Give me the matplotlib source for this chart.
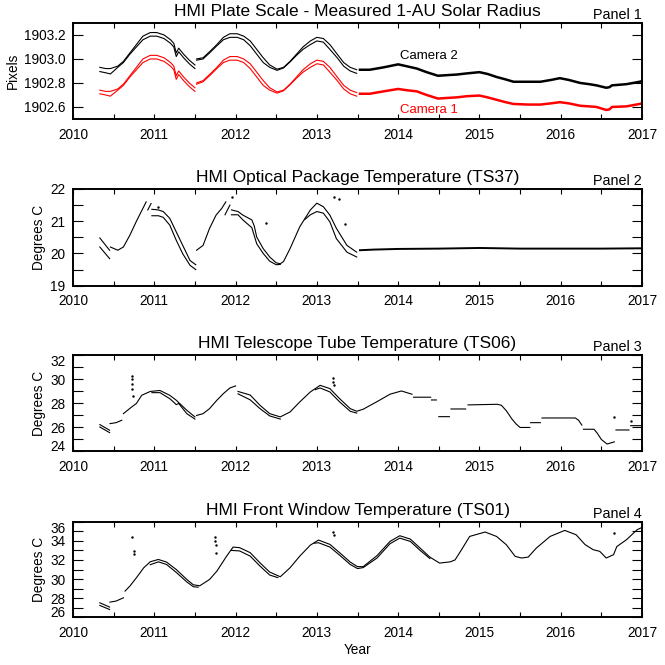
import numpy as np
import matplotlib
matplotlib.use('Agg')
import matplotlib.pyplot as plt
from matplotlib.ticker import MultipleLocator, FormatStrFormatter

nan = np.nan

# ---------------- Panel 1: plate scale (pixels) ----------------
p1_x_early = [2010.33, 2010.40, 2010.46, 2010.55, 2010.62, 2010.70, 2010.78, 2010.86, 2010.95, 2011.03,
              2011.12, 2011.20, 2011.24, 2011.27, 2011.30, 2011.36, 2011.43, 2011.50, nan,
              2011.52, 2011.60, 2011.68, 2011.77, 2011.85, 2011.93, 2012.02, 2012.10, 2012.18, 2012.26,
              2012.34, 2012.42, 2012.51, 2012.59, 2012.67, 2012.75, 2012.83, 2012.92, 2013.00, 2013.08,
              2013.16, 2013.25, 2013.33, 2013.41, 2013.49]
p1_cam2_upper = [1902.93, 1902.92, 1902.92, 1902.94, 1902.98, 1903.05, 1903.12, 1903.19, 1903.22, 1903.22,
                 1903.20, 1903.16, 1903.13, 1903.05, 1903.09, 1903.04, 1902.99, 1902.95, nan,
                 1903.00, 1903.01, 1903.06, 1903.12, 1903.18, 1903.21, 1903.21, 1903.19, 1903.15, 1903.08,
                 1903.01, 1902.95, 1902.915, 1902.93, 1902.98, 1903.04, 1903.10, 1903.15, 1903.18, 1903.17,
                 1903.12, 1903.04, 1902.97, 1902.93, 1902.91]
p1_cam2_lower = [1902.895, 1902.885, 1902.875, 1902.93, 1902.97, 1903.04, 1903.10, 1903.16, 1903.19, 1903.19,
                 1903.17, 1903.13, 1903.10, 1903.02, 1903.06, 1903.01, 1902.96, 1902.92, nan,
                 1902.99, 1903.00, 1903.05, 1903.11, 1903.16, 1903.18, 1903.18, 1903.16, 1903.11, 1903.04,
                 1902.97, 1902.93, 1902.905, 1902.925, 1902.975, 1903.03, 1903.08, 1903.12, 1903.15, 1903.14,
                 1903.08, 1903.01, 1902.94, 1902.90, 1902.88]
p1_cam1_upper = [1902.74, 1902.73, 1902.73, 1902.75, 1902.79, 1902.86, 1902.93, 1903.00, 1903.03, 1903.03,
                 1903.01, 1902.97, 1902.94, 1902.86, 1902.90, 1902.85, 1902.80, 1902.76, nan,
                 1902.80, 1902.82, 1902.87, 1902.93, 1902.99, 1903.02, 1903.02, 1903.00, 1902.96, 1902.89,
                 1902.82, 1902.76, 1902.725, 1902.74, 1902.79, 1902.85, 1902.91, 1902.96, 1902.99, 1902.98,
                 1902.93, 1902.85, 1902.78, 1902.74, 1902.72]
p1_cam1_lower = [1902.71, 1902.70, 1902.69, 1902.74, 1902.78, 1902.85, 1902.91, 1902.97, 1903.00, 1903.00,
                 1902.98, 1902.94, 1902.91, 1902.83, 1902.87, 1902.82, 1902.77, 1902.73, nan,
                 1902.79, 1902.81, 1902.86, 1902.92, 1902.97, 1902.99, 1902.99, 1902.97, 1902.92, 1902.85,
                 1902.78, 1902.74, 1902.715, 1902.735, 1902.785, 1902.84, 1902.89, 1902.93, 1902.96, 1902.95,
                 1902.89, 1902.82, 1902.75, 1902.71, 1902.69]
p1_x_late = [2013.53, 2013.65, 2013.82, 2014.00, 2014.10, 2014.23, 2014.35, 2014.49, 2014.60, 2014.72,
             2014.85, 2015.00, 2015.10, 2015.21, 2015.32, 2015.42, 2015.60, 2015.75, 2015.88, 2015.99,
             2016.10, 2016.24, 2016.35, 2016.44, 2016.56, 2016.60, 2016.63, 2016.81, 2016.97, 2017.00]
p1_cam2_late = [1902.91, 1902.91, 1902.93, 1902.955, 1902.94, 1902.92, 1902.89, 1902.86, 1902.865, 1902.87,
                1902.88, 1902.89, 1902.875, 1902.85, 1902.83, 1902.81, 1902.81, 1902.81, 1902.825, 1902.84,
                1902.825, 1902.80, 1902.79, 1902.78, 1902.76, 1902.765, 1902.78, 1902.79, 1902.81, 1902.815]
p1_cam1_late = [1902.71, 1902.71, 1902.73, 1902.75, 1902.74, 1902.73, 1902.70, 1902.67, 1902.675, 1902.68,
                1902.69, 1902.695, 1902.68, 1902.66, 1902.64, 1902.625, 1902.62, 1902.62, 1902.63, 1902.64,
                1902.63, 1902.61, 1902.605, 1902.60, 1902.575, 1902.58, 1902.60, 1902.605, 1902.625, 1902.63]

# ---------------- Panel 2: optical package temperature ----------------
p2_upper_x = [2010.33, 2010.45, nan, 2010.46, 2010.55, 2010.62, 2010.70, 2010.78, 2010.85, 2010.90, nan,
              2010.92, 2010.96, nan, 2010.97, 2011.05, 2011.11, 2011.19, 2011.27, 2011.35, 2011.44, 2011.51, nan,
              2011.52, 2011.60, 2011.68, 2011.76, 2011.83, 2011.88, nan, 2011.87, 2011.93, nan,
              2011.95, 2012.03, 2012.09, 2012.20, 2012.23, 2012.26, 2012.34, 2012.42, 2012.50, 2012.55,
              2012.59, 2012.67, 2012.79, 2012.92, 2013.00, 2013.08, 2013.16, 2013.24, 2013.37, 2013.49]
p2_upper_y = [20.48, 20.10, nan, 20.20, 20.10, 20.20, 20.57, 21.00, 21.35, 21.60, nan,
              21.35, 21.55, nan, 21.37, 21.35, 21.30, 21.09, 20.67, 20.25, 19.78, 19.65, nan,
              20.10, 20.25, 20.78, 21.19, 21.40, 21.60, nan, 21.20, 21.50, nan,
              21.35, 21.30, 21.19, 21.04, 20.85, 20.51, 20.15, 19.89, 19.71, 19.68,
              19.75, 20.15, 20.83, 21.35, 21.56, 21.45, 21.19, 20.78, 20.25, 20.04]
p2_lower_x = [2010.33, 2010.45, nan, 2010.97, 2011.05, 2011.11, 2011.19, 2011.27, 2011.35, 2011.44, 2011.51, nan,
              2011.95, 2012.03, 2012.09, 2012.20, 2012.26, 2012.34, 2012.42, 2012.50, 2012.55, nan,
              2012.85, 2012.92, 2013.00, 2013.08, 2013.16, 2013.24, 2013.37, 2013.49]
p2_lower_y = [20.20, 19.84, nan, 21.17, 21.17, 21.12, 20.88, 20.41, 19.99, 19.63, 19.50, nan,
              21.20, 21.20, 21.04, 20.80, 20.30, 20.00, 19.76, 19.65, 19.66, nan,
              21.05, 21.20, 21.30, 21.25, 20.98, 20.46, 20.04, 19.89]
p2_late_x = [2013.53, 2013.70, 2014.00, 2014.50, 2015.00, 2015.50, 2016.00, 2016.50, 2017.00]
p2_late_y = [20.10, 20.12, 20.14, 20.15, 20.17, 20.15, 20.15, 20.15, 20.16]
p2_dots_x = [2011.05, 2011.95, 2012.38, 2013.21, 2013.27, 2013.35]
p2_dots_y = [21.45, 21.75, 20.95, 21.75, 21.70, 20.90]

# ---------------- Panel 3: telescope tube temperature ----------------
p3_upper_x = [2010.33, 2010.45, nan, 2010.455, 2010.53, 2010.60, nan, 2010.62, 2010.72, 2010.78, 2010.845,
              2010.95, 2011.07, 2011.19, 2011.27, 2011.40, 2011.50, nan,
              2011.52, 2011.60, 2011.68, 2011.77, 2011.85, 2011.93, 2012.00, nan,
              2012.03, 2012.18, 2012.30, 2012.42, 2012.55, 2012.67, 2012.79, 2012.92, 2013.04, 2013.16,
              2013.28, 2013.41, 2013.49, 2013.57, 2013.74, 2013.90, 2014.04, 2014.17, nan,
              2014.19, 2014.40, nan, 2014.41, 2014.47, nan, 2014.50, 2014.63, nan, 2014.65, 2014.83, nan,
              2014.86, 2015.22, 2015.27, 2015.33, 2015.40, 2015.45, 2015.50, 2015.62, nan,
              2015.63, 2015.75, nan, 2015.77, 2016.18, 2016.22, 2016.26, nan,
              2016.28, 2016.41, 2016.45, 2016.50, 2016.57, 2016.66, nan, 2016.68, 2016.84, nan,
              2016.86, 2017.00]
p3_upper_y = [26.24, 25.77, nan, 26.32, 26.40, 26.60, nan, 27.15, 27.70, 28.00, 28.68,
              29.00, 29.08, 28.68, 28.27, 27.43, 26.88, nan,
              27.00, 27.15, 27.57, 28.27, 28.82, 29.29, 29.46, nan,
              29.00, 28.70, 27.85, 27.15, 26.88, 27.29, 28.13, 28.96, 29.51, 29.24,
              28.40, 27.57, 27.35, 27.52, 28.15, 28.77, 29.04, 28.77, nan,
              28.52, 28.52, nan, 28.29, 28.29, nan, 26.90, 26.90, nan, 27.54, 27.54, nan,
              27.88, 27.93, 27.85, 27.40, 26.70, 26.30, 26.00, 26.00, nan,
              26.40, 26.40, nan, 26.79, 26.79, 26.60, 26.20, nan,
              25.85, 25.85, 25.52, 25.00, 24.62, 24.80, nan, 25.79, 25.79, nan,
              26.15, 26.15]
p3_lower_x = [2010.33, 2010.45, nan, 2010.97, 2011.07, 2011.19, 2011.24, 2011.27, 2011.30, 2011.40, 2011.50, nan,
              2012.03, 2012.18, 2012.30, 2012.42, 2012.55, nan,
              2012.98, 2013.04, 2013.16, 2013.28, 2013.41, 2013.49]
p3_lower_y = [26.04, 25.57, nan, 28.90, 28.90, 28.40, 28.10, 27.90, 28.00, 27.15, 26.70, nan,
              28.80, 28.30, 27.57, 26.96, 26.70, nan,
              29.15, 29.29, 28.96, 28.13, 27.35, 27.20]
p3_dots_x = [2010.72, 2010.72, 2010.73, 2010.73, 2010.74, 2013.20, 2013.20, 2013.21, 2016.65, 2016.87]
p3_dots_y = [30.30, 30.00, 29.60, 29.20, 28.60, 30.10, 29.80, 29.50, 26.90, 26.55]

# ---------------- Panel 4: front window temperature ----------------
p4_upper_x = [2010.33, 2010.45, nan, 2010.455, 2010.53, 2010.62, nan,
              2010.64, 2010.70, 2010.78, 2010.87, 2010.95, 2011.05, 2011.15, 2011.27, 2011.40, 2011.48,
              2011.56, 2011.68, 2011.77, 2011.89, 2011.97, 2012.05, 2012.18, 2012.30, 2012.42, 2012.55,
              2012.67, 2012.79, 2012.92, 2013.02, 2013.16, 2013.28, 2013.41, 2013.50, 2013.57, 2013.74,
              2013.90, 2014.02, 2014.15, 2014.27, 2014.39, 2014.51, 2014.64, 2014.70, 2014.78, 2014.88,
              2015.07, 2015.21, 2015.33, 2015.44, 2015.52, 2015.60, 2015.70, 2015.87, 2016.05, 2016.19,
              2016.30, 2016.40, 2016.48, 2016.56, 2016.65, 2016.69, 2016.81, 2016.94, 2017.00]
p4_upper_y = [27.52, 27.07, nan, 27.59, 27.70, 28.04, nan,
              28.74, 29.27, 30.14, 31.18, 31.81, 32.05, 31.78, 31.00, 29.96, 29.40,
              29.30, 29.96, 30.83, 32.40, 33.35, 33.28, 32.76, 31.70, 30.73, 30.24,
              31.18, 32.40, 33.55, 34.08, 33.63, 32.76, 31.78, 31.30, 31.30, 32.45,
              33.94, 34.53, 34.18, 33.24, 32.30, 31.67, 31.80, 32.00, 33.07, 34.46,
              34.92, 34.46, 33.60, 32.37, 32.20, 32.30, 33.24, 34.46, 35.09, 34.63,
              33.60, 33.07, 32.90, 32.20, 32.55, 33.40, 34.12, 35.16, 35.40]
p4_lower_x = [2010.33, 2010.45, nan, 2010.95, 2011.05, 2011.15, 2011.27, 2011.40, 2011.48, 2011.54, nan,
              2011.95, 2012.05, 2012.18, 2012.30, 2012.42, 2012.52, nan,
              2012.97, 2013.02, 2013.16, 2013.28, 2013.41, 2013.50, 2013.57, 2013.74, 2013.90, 2014.02,
              2014.15, 2014.27, 2014.39]
p4_lower_y = [27.24, 26.82, nan, 31.50, 31.80, 31.53, 30.70, 29.70, 29.20, 29.15, nan,
              33.00, 32.94, 32.40, 31.36, 30.42, 30.15, nan,
              33.75, 33.80, 33.35, 32.50, 31.53, 31.10, 31.20, 32.20, 33.70, 34.28,
              33.94, 33.00, 32.15]
p4_dots_x = [2010.72, 2010.75, 2010.75, 2011.75, 2011.75, 2011.76, 2011.76, 2013.20, 2013.21, 2016.65]
p4_dots_y = [34.40, 32.90, 32.60, 34.40, 34.00, 33.60, 32.70, 34.90, 34.60, 34.85]

titles = ["HMI Plate Scale - Measured 1-AU Solar Radius",
          "HMI Optical Package Temperature (TS37)",
          "HMI Telescope Tube Temperature (TS06)",
          "HMI Front Window Temperature (TS01)"]
panel_tags = ["Panel 1", "Panel 2", "Panel 3", "Panel 4"]
ylabels = ["Pixels", "Degrees C", "Degrees C", "Degrees C"]
year_ticks = [2010, 2011, 2012, 2013, 2014, 2015, 2016, 2017]

plt.rcParams['font.family'] = ['Liberation Sans', 'DejaVu Sans']

fig = plt.figure(figsize=(6.65, 6.65), dpi=100)
L, W = 0.1098, 0.8556
rects = [(L, 0.8211, W, 0.1444), (L, 0.5704, W, 0.1454),
         (L, 0.3211, W, 0.1444), (L, 0.0717, W, 0.1438)]
axes = [fig.add_axes(r) for r in rects]

ylims = [(1902.5, 1903.3), (19, 22), (24, 32), (26, 36)]
ymajor = [0.2, 1, 2, 2]
yminor = [None, 0.5, 1, 1]
yfmt = ['%.1f', '%d', '%d', '%d']
ylabel_x = [-0.093, -0.047, -0.047, -0.047]

lw = 0.8
a = axes[0]
a.plot(p1_x_early, p1_cam2_upper, color='black', lw=lw)
a.plot(p1_x_early, p1_cam2_lower, color='black', lw=lw)
a.plot(p1_x_early, p1_cam1_upper, color='red', lw=lw)
a.plot(p1_x_early, p1_cam1_lower, color='red', lw=lw)
a.plot(p1_x_late, p1_cam2_late, color='black', lw=1.8)
a.plot(p1_x_late, p1_cam1_late, color='red', lw=1.8)
a.text(2014.02, 1903.0, "Camera 2", color='black', fontsize=9.5, va='baseline', ha='left')
a.text(2014.02, 1902.55, "Camera 1", color='red', fontsize=9.5, va='baseline', ha='left')

a = axes[1]
a.plot(p2_upper_x, p2_upper_y, color='black', lw=lw)
a.plot(p2_lower_x, p2_lower_y, color='black', lw=lw)
a.plot(p2_late_x, p2_late_y, color='black', lw=1.4)
a.plot(p2_dots_x, p2_dots_y, 'k.', ms=1.5)

a = axes[2]
a.plot(p3_upper_x, p3_upper_y, color='black', lw=lw)
a.plot(p3_lower_x, p3_lower_y, color='black', lw=lw)
a.plot(p3_dots_x, p3_dots_y, 'k.', ms=1.5)

a = axes[3]
a.plot(p4_upper_x, p4_upper_y, color='black', lw=lw)
a.plot(p4_lower_x, p4_lower_y, color='black', lw=lw)
a.plot(p4_dots_x, p4_dots_y, 'k.', ms=1.5)

for i, ax in enumerate(axes):
    ax.set_xlim(2010, 2017)
    ax.set_ylim(*ylims[i])
    ax.set_xticks(year_ticks)
    ax.xaxis.set_minor_locator(MultipleLocator(0.5))
    ax.xaxis.set_major_formatter(FormatStrFormatter('%d'))
    ax.yaxis.set_major_locator(MultipleLocator(ymajor[i]))
    if yminor[i]:
        ax.yaxis.set_minor_locator(MultipleLocator(yminor[i]))
    ax.yaxis.set_major_formatter(FormatStrFormatter(yfmt[i]))
    ax.tick_params(axis='x', which='both', direction='in', top=True, bottom=True,
                   length=3.6, width=0.8, pad=6.3, labelsize=9.8)
    ax.tick_params(axis='y', which='both', direction='in', left=True, right=True,
                   length=7, width=0.8, pad=5.5, labelsize=9.8)
    for s in ax.spines.values():
        s.set_linewidth(1.4)
    ax.set_title(titles[i], fontsize=12.5, pad=5)
    ax.annotate(panel_tags[i], xy=(1, 1), xycoords='axes fraction', xytext=(0, 3),
                textcoords='offset points', ha='right', va='baseline', fontsize=10.4)
    ax.set_ylabel(ylabels[i], fontsize=9.8)
    ax.yaxis.set_label_coords(ylabel_x[i], 0.5)

axes[3].set_xlabel("Year", fontsize=9.8, labelpad=2)

fig.canvas.draw()
for ax in axes[2:]:
    ticks = ax.yaxis.get_major_ticks()
    locs = ax.yaxis.get_majorticklocs()
    lo, hi = ax.get_ylim()
    for t, v in zip(ticks, locs):
        if abs(v - hi) < 1e-6:
            t.label1.set_va('top')
        elif abs(v - lo) < 1e-6:
            t.label1.set_va('baseline')

fig.savefig("out.png", dpi=100)
